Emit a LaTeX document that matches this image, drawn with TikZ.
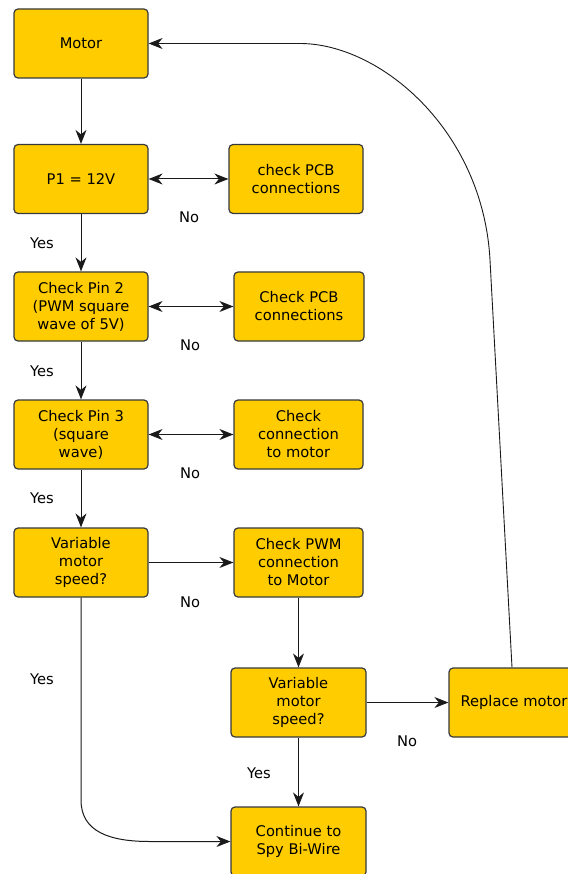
\documentclass[tikz,border=0pt]{standalone}
\usepackage{fontspec}
\setmainfont{DejaVu Sans}
\usetikzlibrary{arrows.meta}
\definecolor{boxfill}{HTML}{FFCC00}
\definecolor{boxline}{HTML}{36393D}
\definecolor{wire}{HTML}{1A1A1A}
\begin{document}
\begin{tikzpicture}[x=1pt,y=-1pt,
  every node/.style={font=\fontsize{14.7}{18}\selectfont},
  stepbox/.style={draw=boxline, fill=boxfill, line width=1.2pt,
    rounded corners=4pt, minimum height=69pt, minimum width=134pt,
    inner sep=0pt, align=center},
  flow/.style={draw=wire, line width=1pt, -{Stealth[length=14pt,width=11pt,inset=4.5pt]}},
  both/.style={draw=wire, line width=1pt, {Stealth[length=14pt,width=11pt,inset=4.5pt]}-{Stealth[length=14pt,width=11pt,inset=4.5pt]}},
  lbl/.style={inner sep=0pt}]
\useasboundingbox (0,0) rectangle (567,874);

% left column
\node[stepbox] (motor) at (81,43.5) {Motor};
\node[stepbox] (p1)    at (81,179) {P1 = 12V};
\node[stepbox] (pin2)  at (81,306.5) {Check Pin 2\\(PWM square\\wave of 5V)};
\node[stepbox] (pin3)  at (81,434.5) {Check Pin 3\\(square\\wave)};
\node[stepbox] (var1)  at (81,562.5) {Variable\\motor\\speed?};

% right column
\node[stepbox] (pcb1) at (296,179) {check PCB\\connections};
\node[stepbox, minimum width=130pt] (pcb2) at (299,306.5) {Check PCB\\connections};
\node[stepbox, minimum width=129pt] (conn) at (298.5,434.5) {Check\\connection\\to motor};
\node[stepbox, minimum width=129pt] (pwm)  at (298.5,562.5) {Check PWM\\connection\\to Motor};
\node[stepbox, minimum width=135pt] (var2) at (298.5,702.5) {Variable\\motor\\speed?};
\node[stepbox, minimum width=135pt] (cont) at (298.5,841.5) {Continue to\\Spy Bi-Wire};
\node[stepbox, minimum width=130pt] (repl) at (514,702.5) {Replace motor};

% connectors
\draw[flow] (motor) -- (p1);
\draw[flow] (p1) -- (pin2);
\draw[flow] (pin2) -- (pin3);
\draw[flow] (pin3) -- (var1);
\draw[both] (p1) -- (pcb1);
\draw[both] (pin2) -- (pcb2);
\draw[both] (pin3) -- (conn);
\draw[flow] (var1) -- (pwm);
\draw[flow] (pwm) -- (var2);
\draw[flow] (var2) -- (repl);
\draw[flow] (var2) -- (cont);
\coordinate (bend) at (81,800);
\draw[flow] (var1.south) -- (bend) .. controls (81,832) and (110,841.5) .. (150,841.5) -- (cont.west);
\coordinate (rise) at (490,260);
\coordinate (top) at (300,43.5);
\draw[flow, line width=0.9pt] (repl.north -| 512,0) -- (rise) .. controls (483,130) and (380,43.5) .. (top) -- (motor.east);

% answer labels
\node[lbl] (n1) at (189,217) {No};
\node[lbl] (y1) at (42,243) {Yes};
\node[lbl] (n2) at (190,345) {No};
\node[lbl] (y2) at (42,371) {Yes};
\node[lbl] (n3) at (190,473) {No};
\node[lbl] (y3) at (42,498) {Yes};
\node[lbl] (n4) at (190,602) {No};
\node[lbl] (y4) at (42,679) {Yes};
\node[lbl] (y5) at (259,773) {Yes};
\node[lbl] (n5) at (407,741) {No};
\end{tikzpicture}
\end{document}
